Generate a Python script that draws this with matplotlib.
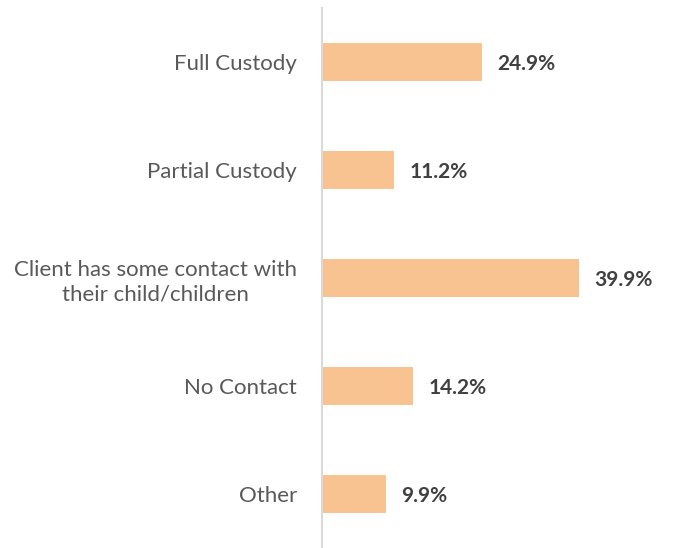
import matplotlib
matplotlib.use('Agg')
import matplotlib.pyplot as plt

categories = ['Full Custody', 'Partial Custody', 'Client has some contact with\ntheir child/children',
              'No Contact', 'Other']
values = [24.9, 11.2, 39.9, 14.2, 9.9]

plt.rcParams['font.family'] = ['Lato', 'DejaVu Sans']

fig = plt.figure(figsize=(6.73, 5.48), dpi=100)
ax = fig.add_axes([322/673, 0, 1 - 322/673, 540/548])

ypos = list(range(len(categories)))
ax.barh(ypos, values, height=0.35, color='#F8C291', zorder=2)
ax.set_ylim(4.5, -0.5)
ax.set_xlim(0, 54.6)

for y, v in zip(ypos, values):
    ax.annotate(f'{v:.1f}%', (v, y), xytext=(11, -1.5), textcoords='offset points',
                ha='left', va='center', fontsize=15, fontweight='bold', color='#404040')

ax.set_yticks(ypos)
ax.set_yticklabels(categories, fontsize=16, color='#595959', multialignment='center',
                   linespacing=1.3)
ax.tick_params(axis='y', length=0, pad=18)
ax.set_xticks([])
for s in ['top', 'right', 'bottom']:
    ax.spines[s].set_visible(False)
ax.spines['left'].set_color('#D9D9D9')
ax.spines['left'].set_linewidth(1.5)

fig.savefig('out.png', dpi=100)
